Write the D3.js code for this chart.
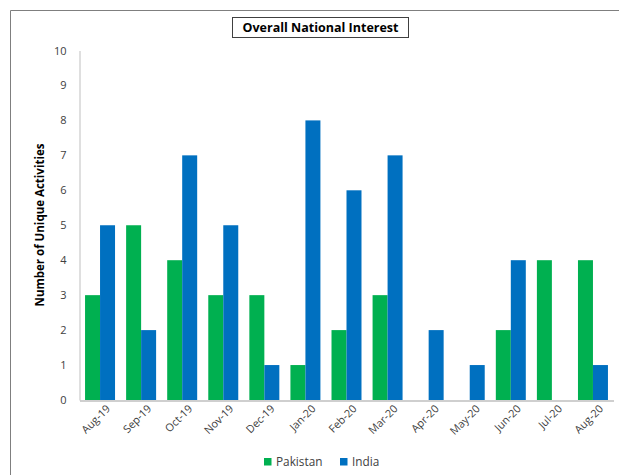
<!DOCTYPE html>
<html><head><meta charset="utf-8">
<script src="https://cdn.jsdelivr.net/npm/d3@7"></script>
<style>html,body{margin:0;background:#fff;overflow:hidden;}svg{display:block;}</style>
</head><body>
<script>
const categories = ["Aug-19","Sep-19","Oct-19","Nov-19","Dec-19","Jan-20","Feb-20","Mar-20","Apr-20","May-20","Jun-20","Jul-20","Aug-20"];
const pakistan = [3,5,4,3,3,1,2,3,0,0,2,4,4];
const india = [5,2,7,5,1,8,6,7,2,1,4,0,1];
const seriesNames = ["Pakistan","India"];
const colors = ["#00B050","#0070C0"];
const yTicks = [0,1,2,3,4,5,6,7,8,9,10];

const W = 619, H = 475;
const svg = d3.select("body").append("svg").attr("width", W).attr("height", H);
const font = "'Open Sans', sans-serif";

// outer frame (only top and left edges visible)
svg.append("path").attr("d","M10.5,475V10.5H619")
  .attr("fill","none").attr("stroke","#7f7f7f").attr("stroke-width",1);

const x = d3.scaleBand().domain(categories).range([79.5, 613.5]).paddingInner(0.27).paddingOuter(0.135);
const xi = d3.scaleBand().domain(seriesNames).range([0, x.bandwidth()]);
const y = d3.scaleLinear().domain([0,10]).range([400, 50.5]);

// y axis
const ya = svg.append("g").attr("transform","translate(79.5,0)")
  .call(d3.axisLeft(y).tickValues(yTicks).tickSize(0).tickPadding(13));
ya.select(".domain").attr("stroke","#bfbfbf");
ya.selectAll("text").attr("font-family",font).attr("font-size",11).attr("fill","#404040");

const data = categories.map((c,i)=>({c, vals:[pakistan[i], india[i]]}));
const g = svg.append("g");
data.forEach(d=>{
  d.vals.forEach((v,j)=>{
    if (v>0) g.append("rect")
      .attr("x", x(d.c)+xi(seriesNames[j]))
      .attr("y", y(v))
      .attr("width", xi.bandwidth())
      .attr("height", y(0)-y(v))
      .attr("fill", colors[j]);
  });
});

// x axis
const xa = svg.append("g").attr("transform","translate(0,400.5)")
  .call(d3.axisBottom(x).tickSize(0).tickPadding(6));
xa.select(".domain").attr("stroke","#bfbfbf").attr("stroke-width",1.5);
xa.selectAll("text").attr("font-family",font).attr("font-size",10.8).attr("fill","#404040")
  .attr("text-anchor","end").attr("dy","0.35em")
  .attr("transform","translate(4,2) rotate(-45)");

// y title
svg.append("text").attr("transform","translate(44,225) rotate(-90)")
  .attr("text-anchor","middle").attr("font-family",font).attr("font-weight","bold")
  .attr("font-size",11.5).attr("fill","#000").text("Number of Unique Activities");

// title box
svg.append("rect").attr("x",232.5).attr("y",17.5).attr("width",176).attr("height",20)
  .attr("fill","#fff").attr("stroke","#404040").attr("stroke-width",1);
svg.append("text").attr("x",320.5).attr("y",32).attr("text-anchor","middle")
  .attr("font-family",font).attr("font-weight","bold").attr("font-size",12.5).attr("fill","#000")
  .text("Overall National Interest");

// legend
const legX = [264, 340];
seriesNames.forEach((n,j)=>{
  svg.append("rect").attr("x",legX[j]).attr("y",458).attr("width",7.5).attr("height",7.5).attr("fill",colors[j]);
  svg.append("text").attr("x",legX[j]+12).attr("y",466).attr("font-family",font)
    .attr("font-size",11.8).attr("fill","#404040").text(n);
});
</script>
</body></html>
